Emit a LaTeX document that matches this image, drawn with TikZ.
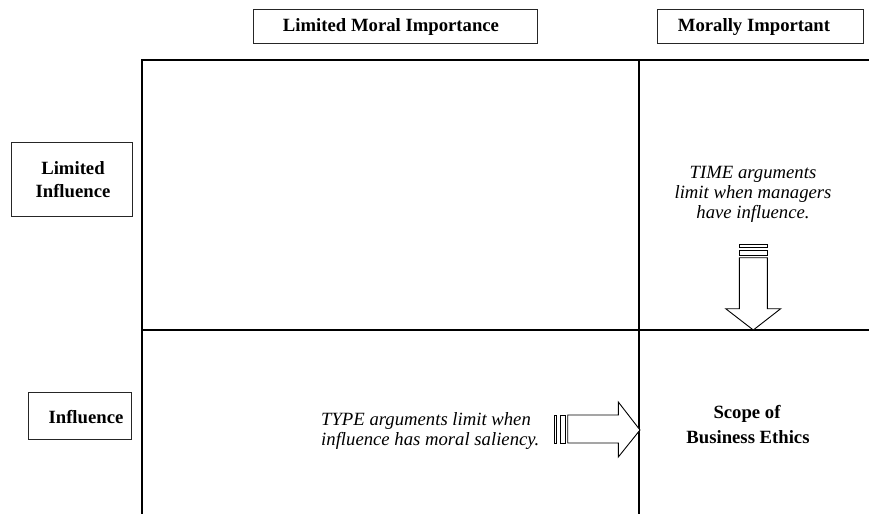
\documentclass[tikz,border=0pt]{standalone}
\usepackage{fontspec}
\setmainfont{Liberation Serif}
\begin{document}
\begin{tikzpicture}[x=1pt,y=-1pt,
  gridline/.style={line width=2pt,black},
  labelbox/.style={draw=black!85,line width=1pt,inner sep=0pt},
  boldtxt/.style={font=\fontsize{18.7}{20}\selectfont\bfseries,anchor=base,inner sep=0pt},
  ittxt/.style={font=\fontsize{18.7}{20}\selectfont\itshape,inner sep=0pt},
  arrowshape/.style={draw=black,line width=0.9pt,fill=white,line join=miter}]
\useasboundingbox (0,0) rectangle (869,514);
% header boxes
\node[labelbox,minimum width=284pt,minimum height=34pt] (lmibox) at (395,26) {};
\node[boldtxt] (lmi) at (391,31.5) {Limited Moral Importance};
\node[labelbox,minimum width=206pt,minimum height=34pt] (mibox) at (760,26) {};
\node[boldtxt] (mi) at (754,31) {Morally Important};
% row boxes
\node[labelbox,minimum width=121pt,minimum height=74pt] (libox) at (71.5,179) {};
\node[boldtxt] (li1) at (73,174) {Limited};
\node[boldtxt] (li2) at (73,197) {Influence};
\node[labelbox,minimum width=103pt,minimum height=47pt] (ibox) at (79.5,415.5) {};
\node[boldtxt] (inf) at (86,423) {Influence};
% grid
\coordinate (tl) at (142,60);
\coordinate (tr) at (869,60);
\coordinate (ml) at (142,330);
\coordinate (mr) at (869,330);
\coordinate (bl) at (142,514);
\coordinate (tm) at (639,60);
\coordinate (bm) at (639,514);
\draw[gridline] (tr) -- (tl) -- (bl);
\draw[gridline] (ml) -- (mr);
\draw[gridline] (tm) -- (bm);
% TIME text
\node[ittxt,anchor=base] (t1) at (753,178) {TIME arguments};
\node[ittxt,anchor=base] (t2) at (753,198) {limit when managers};
\node[ittxt,anchor=base] (t3) at (753,218) {have influence.};
% down arrow
\draw[arrowshape] (739.3,244.3) rectangle (767.3,247.3);
\draw[arrowshape] (739.3,250) rectangle (767.3,255.7);
\draw[arrowshape] (739.3,257.7) -- (767.3,257.7) -- (767.3,308.7) -- (780.7,308.7)
  -- (753.3,330) -- (725.7,308.7) -- (739.3,308.7) -- cycle;
% TYPE text
\node[ittxt,anchor=base west] (y1) at (321,425) {TYPE arguments limit when};
\node[ittxt,anchor=base west] (y2) at (321,445) {influence has moral saliency.};
% right arrow
\draw[arrowshape] (554.3,415) rectangle (556.8,443);
\draw[arrowshape] (560,415) rectangle (565.7,443);
\draw[arrowshape] (567.7,415) -- (618.3,415) -- (618.3,402) -- (640,430)
  -- (618.3,457) -- (618.3,443) -- (567.7,443) -- cycle;
% scope text
\node[boldtxt] (s1) at (747,418) {Scope of};
\node[boldtxt] (s2) at (748,443) {Business Ethics};
\end{tikzpicture}
\end{document}
